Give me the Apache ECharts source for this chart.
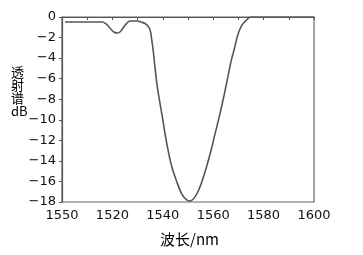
<!DOCTYPE html>
<html>
<head>
<meta charset="utf-8">
<script src="https://cdn.jsdelivr.net/npm/echarts@6/dist/echarts.min.js"></script>
<style>
html, body { margin: 0; padding: 0; background: #fff; }
#main { width: 363px; height: 255px; }
</style>
</head>
<body>
<div id="main"></div>
<script>
// wavelength (nm) and transmission (dB)
var wavelength = [1501.2, 1515.9, 1517.5, 1519.0, 1520.6, 1521.8, 1523.0, 1524.2, 1525.8, 1527.0,
    1529.8, 1531.3, 1532.9, 1534.1, 1535.0, 1535.6, 1536.2, 1536.9, 1537.6, 1538.6,
    1539.6, 1541.5, 1543.5, 1545.5, 1547.5, 1549.5, 1550.8, 1552.8, 1554.8, 1556.7,
    1558.7, 1560.7, 1562.7, 1564.5, 1566.0, 1567.3, 1568.6, 1569.8, 1571.4, 1573.0,
    1575.0, 1600.0];
var transmission = [-0.49, -0.49, -0.68, -1.07, -1.46, -1.56, -1.46, -1.07, -0.58, -0.39,
    -0.39, -0.49, -0.63, -0.88, -1.3, -2.2, -3.3, -4.9, -6.4, -8.0,
    -9.4, -12.2, -14.5, -16.0, -17.2, -17.8, -17.9, -17.5, -16.5, -15.1,
    -13.4, -11.4, -9.4, -7.4, -5.6, -4.1, -2.9, -1.7, -0.8, -0.35,
    0, 0];

// x tick labels as printed (the first one really reads 1550)
var xTickValues = [1500, 1520, 1540, 1560, 1580, 1600];
var xTickLabels = ['1550', '1520', '1540', '1560', '1580', '1600'];

var chart = echarts.init(document.getElementById('main'));

var points = [];
for (var i = 0; i < wavelength.length; i++) {
    points.push([wavelength[i], transmission[i]]);
}

var option = {
    animation: false,
    backgroundColor: '#fff',
    grid: {
        left: 62,
        right: 49,
        top: 17,
        bottom: 53,
        show: true,
        borderColor: '#666',
        borderWidth: 1.2
    },
    xAxis: {
        type: 'value',
        min: 1500,
        max: 1600,
        interval: 10,
        axisLine: { show: true, lineStyle: { color: '#555', width: 1.2 } },
        axisTick: { show: true, length: 3, lineStyle: { color: '#555' } },
        splitLine: { show: false },
        axisLabel: {
            margin: 7,
            color: '#111',
            fontFamily: 'DejaVu Sans',
            fontSize: 13,
            formatter: function (v) {
                var k = xTickValues.indexOf(v);
                return k >= 0 ? xTickLabels[k] : '';
            }
        }
    },
    yAxis: {
        type: 'value',
        min: -18,
        max: 0,
        interval: 2,
        axisLine: { show: true, lineStyle: { color: '#555', width: 1.2 } },
        axisTick: { show: true, length: 3, lineStyle: { color: '#555' } },
        splitLine: { show: false },
        axisLabel: {
            margin: 6,
            color: '#111',
            fontFamily: 'DejaVu Sans',
            fontSize: 13,
            formatter: function (v) {
                return v < 0 ? '\u2212' + (-v) : String(v);
            }
        }
    },
    graphic: [
        {
            type: 'text',
            left: 11,
            top: 66,
            style: {
                text: '透\n射\n谱\ndB',
                font: '13px "Noto Sans CJK SC"',
                lineHeight: 13,
                fill: '#000'
            }
        },
        {
            type: 'text',
            left: 160,
            top: 232,
            style: {
                text: '波长/nm',
                font: '15px "Noto Sans CJK SC"',
                fill: '#000'
            }
        }
    ],
    series: [
        {
            type: 'line',
            data: points,
            showSymbol: false,
            smooth: 0.4,
            lineStyle: { color: '#555', width: 1.6 }
        }
    ]
};

chart.setOption(option);
</script>
</body>
</html>
